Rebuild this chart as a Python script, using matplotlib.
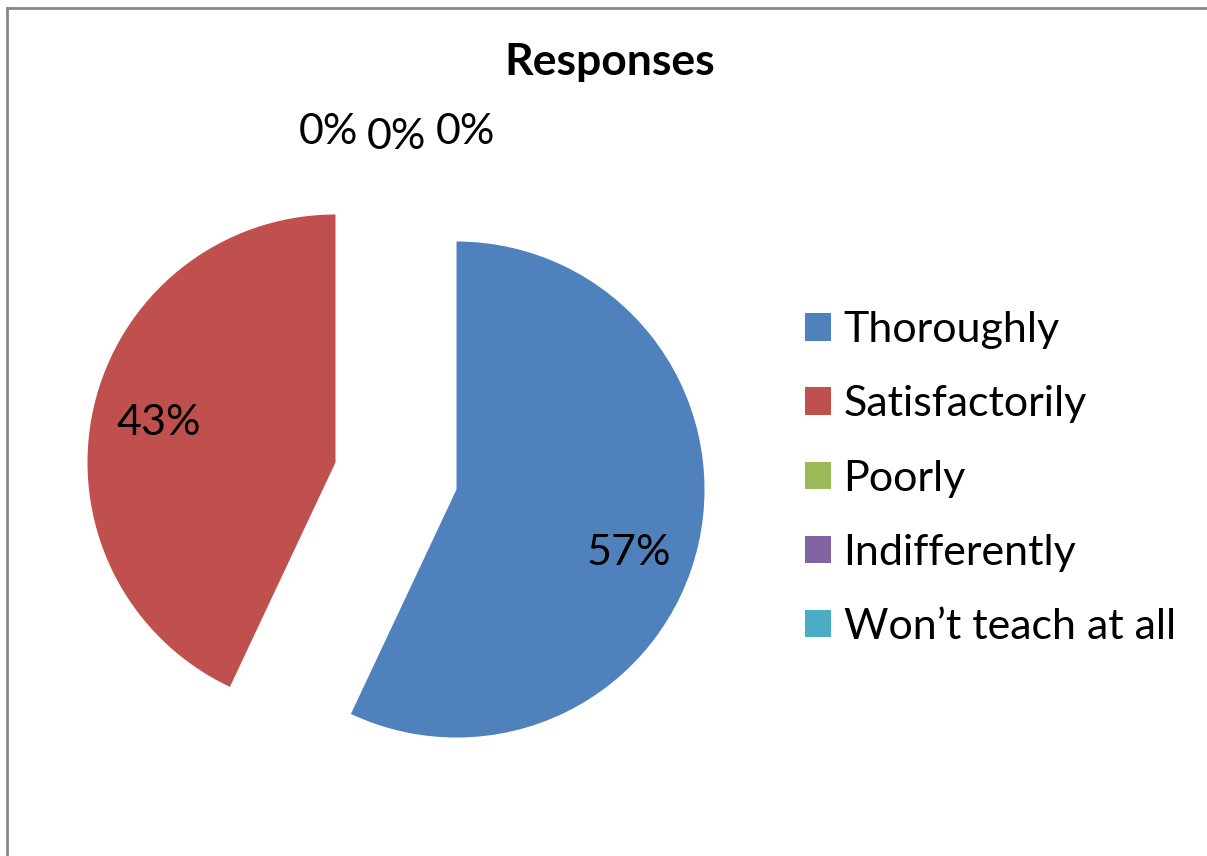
import matplotlib.pyplot as plt
from matplotlib.lines import Line2D

# Data
categories = ['Thoroughly', 'Satisfactorily', 'Poorly', 'Indifferently', 'Won\u2019t teach at all']
values = [57, 43, 0, 0, 0]
colors = ['#4F81BD', '#C0504D', '#9BBB59', '#8064A2', '#4BACC6']
explode_frac = [0.25, 0.25, 0, 0, 0]

plt.rcParams['font.family'] = ['Lato', 'DejaVu Sans']

radius = 248
fig = plt.figure(figsize=(12.07, 8.56), dpi=100)
ax = fig.add_axes([0, 0, 1, 1])

# matplotlib's explode is in data units, so scale by radius
wedges, texts, autotexts = ax.pie(
    values, colors=colors, explode=[e * radius for e in explode_frac],
    startangle=90, counterclock=False,
    center=(396, 380), radius=radius, autopct='%d%%', pctdistance=0.73,
    textprops={'fontsize': 31, 'color': 'black'}, frame=True)
ax.set_xlim(0, 1207)
ax.set_ylim(0, 856)
ax.set_aspect('equal')
ax.axis('off')

# zero labels sit above the pie, side by side
zero_pos = [(328, 724), (396, 719), (465, 724)]
k = 0
for v, t in zip(values, autotexts):
    if v == 0:
        t.set_position(zero_pos[k])
        k += 1

# nudge the 57% label down a little (Excel "best fit")
x57, y57 = autotexts[0].get_position()
autotexts[0].set_position((x57 - 4, y57 - 24))

fig.text(0.505, 0.928, 'Responses', ha='center', va='center', fontsize=32, fontweight='bold')

leg = ax.legend(wedges, categories, loc='center left', bbox_to_anchor=(0.649, 0.441),
                bbox_transform=fig.transFigure, frameon=False, fontsize=31, borderpad=0,
                handlelength=0.6, handleheight=0.6, handletextpad=0.3, labelspacing=0.84)

# chart border (top and left edges visible)
fig.add_artist(Line2D([7 / 1207, 1], [1 - 8 / 856, 1 - 8 / 856], transform=fig.transFigure,
                      color='#888888', lw=2))
fig.add_artist(Line2D([7 / 1207, 7 / 1207], [0, 1 - 8 / 856], transform=fig.transFigure,
                      color='#888888', lw=2))

fig.savefig('out.png', dpi=100)
